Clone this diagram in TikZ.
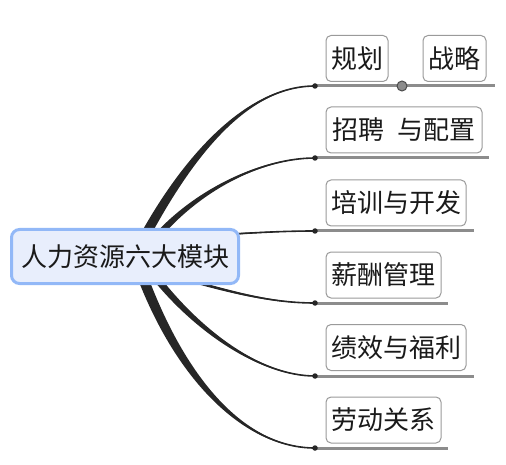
\documentclass[tikz,border=0pt]{standalone}
\usepackage{fontspec}
\newfontfamily\cjk{Noto Sans CJK SC}
\usetikzlibrary{calc,backgrounds}
\definecolor{txt}{HTML}{1A1A1A}
\definecolor{cborder}{HTML}{92B8F7}
\definecolor{cfill}{HTML}{E8EEFC}
\definecolor{bborder}{HTML}{9A9A9A}
\definecolor{uline}{HTML}{8C8C8C}
\definecolor{conncol}{HTML}{262626}
\tikzset{
  centerbox/.style={draw=cborder, fill=cfill, line width=3pt, rounded corners=8pt,
    minimum width=227pt, minimum height=54pt, inner sep=0pt,
    font=\cjk\fontsize{26}{29}\selectfont, text=txt},
  branchbox/.style={draw=bborder, fill=white, line width=1pt, rounded corners=5pt,
    minimum height=46pt, inner sep=0pt,
    font=\cjk\fontsize{26}{29}\selectfont, text=txt},
  underl/.style={draw=uline, line width=3pt},
  enddot/.style={circle, fill=conncol, minimum size=5.5pt, inner sep=0pt},
  middot/.style={circle, fill=uline, draw=black!70, line width=1pt, minimum size=10pt, inner sep=0pt},
  connfill/.style={fill=conncol},
  connline/.style={draw=conncol, line width=1.6pt}
}
% #1 start, #2 control 1, #3 control 2, #4 end node, #5 half width at start, #6 half width near end
\newcommand\brtaper[6]{%
  \fill[connfill] ($(#1)+(#5)$) .. controls ($(#2)+(#5)$) and ($(#3)+(#6)$) .. (#4.center)
     .. controls ($(#3)-(#6)$) and ($(#2)-(#5)$) .. ($(#1)-(#5)$) -- cycle;
  \draw[connline] (#1) .. controls (#2) and (#3) .. (#4.center);
}
\begin{document}
\begin{tikzpicture}[x=1pt,y=-1pt]
\useasboundingbox (0,0) rectangle (506,465);
% center
\node[centerbox] (center) at (125,256.5) {人力资源六大模块};
% branch boxes
\node[branchbox, minimum width=62pt] (b1a) at (357,58.5) {规划};
\node[branchbox, minimum width=63pt] (b1b) at (454.5,58.5) {战略};
\node[branchbox, minimum width=156pt] (b2) at (404,130) {招聘\hspace{0.5em}与配置};
\node[branchbox, minimum width=140pt] (b3) at (396,203) {培训与开发};
\node[branchbox, minimum width=115pt] (b4) at (383.5,275) {薪酬管理};
\node[branchbox, minimum width=140pt] (b5) at (396,347.5) {绩效与福利};
\node[branchbox, minimum width=115pt] (b6) at (383.5,420) {劳动关系};
% underline ends
\coordinate (e1) at (495,86);
\coordinate (e2) at (489,158);
\coordinate (e3) at (474,231);
\coordinate (e4) at (448,303);
\coordinate (e5) at (474,376);
\coordinate (e6) at (448,448);
% dots
\node[enddot] (d1) at (315,86) {};
\node[enddot] (d2) at (315,158) {};
\node[enddot] (d3) at (315,231) {};
\node[enddot] (d4) at (315,303) {};
\node[enddot] (d5) at (315,376) {};
\node[enddot] (d6) at (315,448) {};
\begin{pgfonlayer}{background}
\draw[underl] (d1.center) -- (e1);
\draw[underl] (d2.center) -- (e2);
\draw[underl] (d3.center) -- (e3);
\draw[underl] (d4.center) -- (e4);
\draw[underl] (d5.center) -- (e5);
\draw[underl] (d6.center) -- (e6);
% start points inside the center box
\coordinate (s1) at ($(center)+(15,-11.5)$);
\coordinate (s2) at ($(center)+(25,-11.5)$);
\coordinate (s3) at ($(center)+(75,-20.5)$);
\coordinate (s4) at ($(center)+(45,18.5)$);
\coordinate (s5) at ($(center)+(25,13.5)$);
\coordinate (s6) at ($(center)+(15,13.5)$);
\brtaper{s1}{185,160}{245,86}{d1}{5.5,0}{0,1.3}
\brtaper{s2}{192,192}{260,158}{d2}{4.5,0}{0,1.1}
\brtaper{s3}{250,233}{280,231}{d3}{0,0.8}{0,0.3}
\brtaper{s4}{230,292}{270,303}{d4}{0,1.5}{0,0.6}
\brtaper{s5}{195,330}{260,376}{d5}{4.5,0}{0,-1.1}
\brtaper{s6}{180,380}{245,448}{d6}{5.5,0}{0,-1.3}
\end{pgfonlayer}
\node[middot] (m1) at (402,86) {};
\end{tikzpicture}
\end{document}
